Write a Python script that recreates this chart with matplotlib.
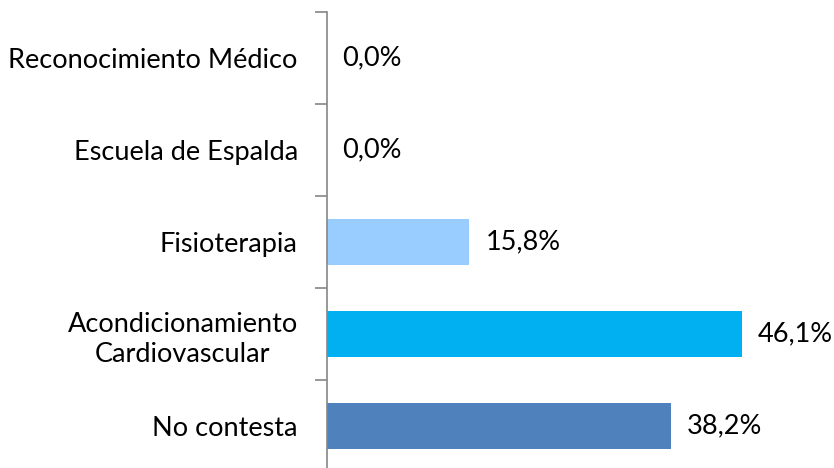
import matplotlib
matplotlib.use("Agg")
import matplotlib.pyplot as plt

# datos (de arriba a abajo)
categorias = ["Reconocimiento Médico", "Escuela de Espalda", "Fisioterapia",
              "Acondicionamiento\nCardiovascular", "No contesta"]
valores = [0.0, 0.0, 15.8, 46.1, 38.2]
etiquetas = ["0,0%", "0,0%", "15,8%", "46,1%", "38,2%"]
colores = ["#99CCFF", "#99CCFF", "#99CCFF", "#00B0F0", "#4F81BD"]

plt.rcParams['font.family'] = ['Lato', 'DejaVu Sans']

fig = plt.figure(figsize=(8.34, 4.68), dpi=100)
ax = fig.add_axes([327/834, (468-472)/468, 450/834, 460/468])

pos = list(range(len(categorias)))[::-1]
ax.barh(pos, valores, height=0.51, color=colores)
ax.set_xlim(0, 50)
ax.set_ylim(-0.5, len(categorias) - 0.5)

for p, v, t in zip(pos, valores, etiquetas):
    ax.text(v + 1.8 if v > 0 else 1.7, p, t, va="center", ha="left", fontsize=19.5)

ax.set_yticks(pos)
ax.set_yticklabels(categorias, fontsize=19.5, linespacing=1.25, multialignment="center")
ax.tick_params(axis="y", length=0, pad=21)
# marcas entre categorias
ax.set_yticks([p + 0.5 for p in pos], minor=True)
ax.tick_params(axis="y", which="minor", length=9, color="#868686", width=1.2)
ax.set_xticks([])
for s in ["top", "right", "bottom"]:
    ax.spines[s].set_visible(False)
ax.spines["left"].set_color("#868686")
ax.spines["left"].set_linewidth(1.2)

fig.savefig("out.png", dpi=100)
